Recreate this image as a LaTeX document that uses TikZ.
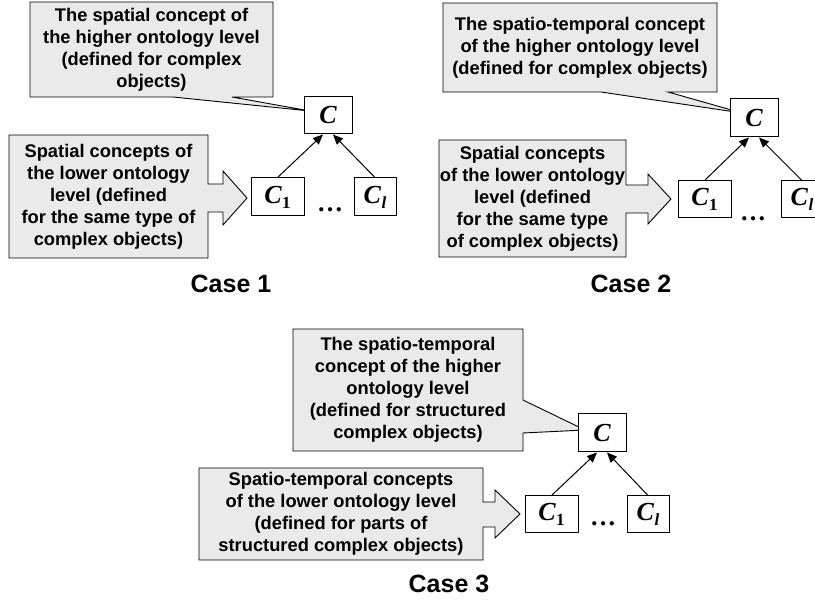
\documentclass[tikz,border=0pt]{standalone}
\usepackage{fontspec}
\setmainfont{Liberation Sans}
\newfontfamily\serifface{Liberation Serif}
\usetikzlibrary{arrows.meta}
\definecolor{calloutfill}{RGB}{234,234,234}
\newcommand{\subC}[1]{C\kern0.5pt\raisebox{-5pt}{\fontsize{17}{17}\selectfont #1}}
\begin{document}
\begin{tikzpicture}[x=1pt,y=-1pt,
  calloutshape/.style={draw=black, line width=0.9pt, fill=calloutfill, line join=miter},
  callouttext/.style={align=center, font=\fontsize{18.3}{22}\selectfont\bfseries, inner sep=0pt},
  concept/.style={draw=black, line width=1pt, fill=white, inner sep=0pt,
    font=\fontsize{26}{26}\serifface\bfseries\itshape},
  link/.style={line width=1pt, -{Triangle[length=10pt,width=8.5pt]}},
  caselabel/.style={font=\fontsize{25}{25}\selectfont\bfseries, anchor=base},
  dotsfont/.style={font=\fontsize{26}{26}\serifface\bfseries, anchor=base}]
\useasboundingbox (0,0) rectangle (815,601);

% ---------------- Case 1 ----------------
\draw[calloutshape] (30,2) -- (273,2) -- (273,97) -- (232,97) -- (310,111)
  -- (173,97) -- (30,97) -- cycle;
\draw[calloutshape] (9,135) -- (208,135) -- (208,184) -- (223,184) -- (223,171)
  -- (247,198) -- (223,225) -- (223,212) -- (208,212) -- (208,258) -- (9,258) -- cycle;
\node[callouttext] (t1) at (151.5,49.5) {The spatial concept of\\the higher ontology level\\(defined for complex\\objects)};
\node[callouttext] (l1) at (108.5,197) {Spatial concepts of\\the lower ontology\\level (defined\\for the same type of\\complex objects)};
\node[concept, minimum width=48, minimum height=37] (c1) at (328,115.5) {C};
\node[concept, minimum width=53, minimum height=38] (c1a) at (277.5,197) {\subC{\upshape 1}};
\node[concept, minimum width=42, minimum height=38] (c1l) at (375,197) {\subC{l}};
\node[dotsfont] (d1) at (330,212) {…};
\draw[link] (c1a.north) -- ([xshift=-5pt]c1.south);
\draw[link] (c1l.north) -- ([xshift=5pt]c1.south);
\node[caselabel] (case1) at (231,293) {Case 1};

% ---------------- Case 2 ----------------
\draw[calloutshape] (443,3) -- (717,3) -- (717,92) -- (668,92) -- (742,113)
  -- (601,92) -- (443,92) -- cycle;
\draw[calloutshape] (439,140) -- (626,140) -- (626,185) -- (648,185) -- (648,174)
  -- (671,199) -- (648,224) -- (648,213) -- (626,213) -- (626,257) -- (439,257) -- cycle;
\node[callouttext] (t2) at (580,47.5) {The spatio-temporal concept\\of the higher ontology level\\(defined for complex objects)};
\node[callouttext] (l2) at (532.5,198.5) {Spatial concepts\\of the lower ontology\\level (defined\\for the same type\\of complex objects)};
\node[concept, minimum width=48, minimum height=38] (c2) at (754,118) {C};
\node[concept, minimum width=53, minimum height=37] (c2a) at (704.5,199.5) {\subC{\upshape 1}};
\node[concept, minimum width=42, minimum height=37] (c2l) at (802,199.5) {\subC{l}};
\node[dotsfont] (d2) at (753,221) {…};
\draw[link] (c2a.north) -- ([xshift=-5pt]c2.south);
\draw[link] (c2l.north) -- ([xshift=5pt]c2.south);
\node[caselabel] (case2) at (631,293) {Case 2};

% ---------------- Case 3 ----------------
\draw[calloutshape] (293,329) -- (523,329) -- (523,400) -- (585,430) -- (523,433)
  -- (523,451) -- (293,451) -- cycle;
\draw[calloutshape] (199,468) -- (483,468) -- (483,502) -- (495,502) -- (495,490)
  -- (520,514) -- (495,538) -- (495,527) -- (483,527) -- (483,560) -- (199,560) -- cycle;
\node[callouttext] (t3) at (408,390) {The spatio-temporal\\concept of the higher\\ontology level\\(defined for structured\\complex objects)};
\node[callouttext] (l3) at (341,514) {Spatio-temporal concepts\\of the lower ontology level\\(defined for parts of\\structured complex objects)};
\node[concept, minimum width=48, minimum height=38] (c3) at (602,433) {C};
\node[concept, minimum width=53, minimum height=37] (c3a) at (551.5,514.5) {\subC{\upshape 1}};
\node[concept, minimum width=42, minimum height=37] (c3l) at (648,514.5) {\subC{l}};
\node[dotsfont] (d3) at (603,526) {…};
\draw[link] (c3a.north) -- ([xshift=-5pt]c3.south);
\draw[link] (c3l.north) -- ([xshift=5pt]c3.south);
\node[caselabel] (case3) at (449,593) {Case 3};
\end{tikzpicture}
\end{document}
